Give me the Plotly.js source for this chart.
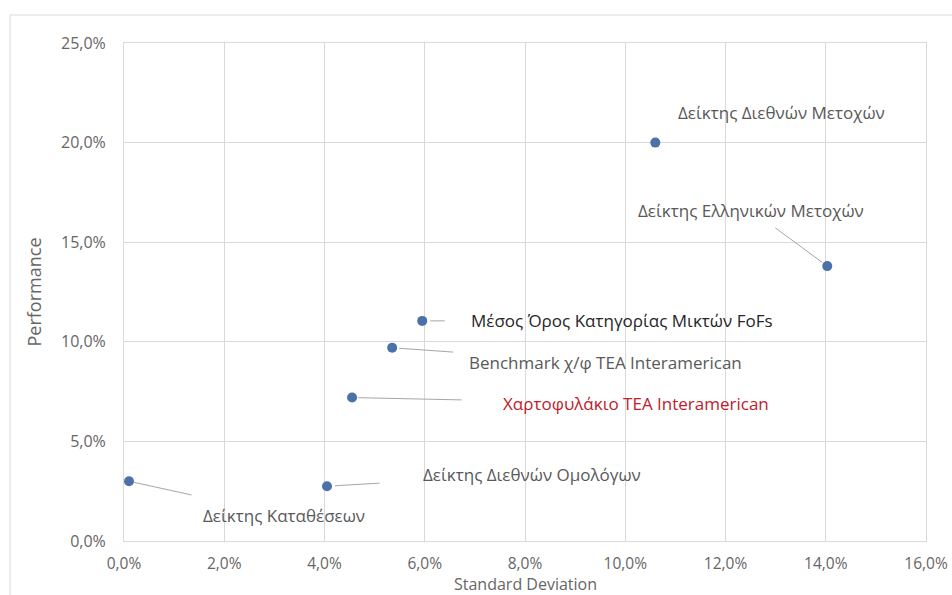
<!DOCTYPE html>
<html>
<head>
<meta charset="utf-8">
<script src="https://cdn.plot.ly/plotly-3.0.1.min.js"></script>
<style>
html,body{margin:0;padding:0;background:#fff;}
#chart{width:952px;height:595px;}
</style>
</head>
<body>
<div id="chart"></div>
<script>
// Data
const names = [
  "Δείκτης Καταθέσεων",
  "Δείκτης Διεθνών Ομολόγων",
  "Χαρτοφυλάκιο TEA Interamerican",
  "Benchmark χ/φ TEA Interamerican",
  "Μέσος Όρος Κατηγορίας Μικτών FoFs",
  "Δείκτης Διεθνών Μετοχών",
  "Δείκτης Ελληνικών Μετοχών"
];
const stdDev = [0.001, 0.0405, 0.0455, 0.0535, 0.0595, 0.106, 0.1403];
const perf   = [0.030, 0.0275, 0.072, 0.097, 0.1105, 0.200, 0.138];
const xTicks = [0, 0.02, 0.04, 0.06, 0.08, 0.10, 0.12, 0.14, 0.16];
const xTickText = ["0,0%","2,0%","4,0%","6,0%","8,0%","10,0%","12,0%","14,0%","16,0%"];
const yTicks = [0, 0.05, 0.10, 0.15, 0.20, 0.25];
const yTickText = ["0,0%","5,0%","10,0%","15,0%","20,0%","25,0%"];
const xTitle = "Standard Deviation";
const yTitle = "Performance";

// Label placement (styling only): pixel offsets from each point
const labelStyle = [
  {ax:155, ay:34,  arrow:true,  color:"#595959", so:5, sso:34},
  {ax:205, ay:-12, arrow:true,  color:"#595959", so:8, sso:42},
  {ax:284, ay:6,   arrow:true,  color:"#c0202a", so:6, sso:40},
  {ax:213, ay:15,  arrow:true,  color:"#595959", so:7, sso:14},
  {ax:200, ay:0,   arrow:true,  color:"#262626", so:8, sso:25},
  {ax:126, ay:-30, arrow:false, color:"#595959", so:0, sso:0},
  {ax:-76, ay:-56, arrow:true,  color:"#595959", so:6, sso:8}
];

const font = "Open Sans, Noto Sans, sans-serif";
const plotH = 595 - 43 - 54;

const annotations = names.map((n, i) => {
  const s = labelStyle[i];
  const a = {
    x: stdDev[i], y: perf[i], xref: "x", yref: "y",
    text: n,
    font: {family: font, size: 17, color: s.color},
  };
  if (s.arrow) {
    Object.assign(a, {showarrow: true, ax: s.ax, ay: s.ay, arrowhead: 0,
      arrowwidth: 1, arrowcolor: "#a6a6a6", standoff: s.so, startstandoff: s.sso});
  } else {
    Object.assign(a, {showarrow: false, xshift: s.ax, yshift: -s.ay});
  }
  return a;
});

// x-axis title placed as a paper annotation (close under the tick labels, like the reference)
annotations.push({
  xref: "paper", yref: "paper", x: 0.5, y: -43/plotH, yanchor: "middle",
  showarrow: false, text: xTitle,
  font: {family: font, size: 16, color: "#666666"}
});

const trace = {
  type: "scatter", mode: "markers",
  x: stdDev, y: perf, text: names,
  marker: {size: 10, color: "#4a72a8"},
  hoverinfo: "text+x+y"
};

const layout = {
  width: 952, height: 595,
  margin: {l: 124, r: 26, t: 43, b: 54},
  paper_bgcolor: "#ffffff", plot_bgcolor: "#ffffff",
  showlegend: false,
  font: {family: font, color: "#595959"},
  xaxis: {
    range: [0, 0.16], tickvals: xTicks, ticktext: xTickText,
    showgrid: true, gridcolor: "#d9d9d9", gridwidth: 1,
    zeroline: false, showline: true, mirror: true, linecolor: "#d9d9d9",
    ticks: "", ticklabelstandoff: 8, tickfont: {family: font, size: 15.5, color: "#666666"}
  },
  yaxis: {
    range: [0, 0.25], tickvals: yTicks, ticktext: yTickText,
    showgrid: true, gridcolor: "#d9d9d9", gridwidth: 1,
    zeroline: false, showline: true, mirror: true, linecolor: "#d9d9d9",
    ticks: "", ticklabelstandoff: 14, tickfont: {family: font, size: 16, color: "#666666"},
    title: {text: yTitle, font: {family: font, size: 18, color: "#666666"}, standoff: 14}
  },
  annotations: annotations,
  shapes: [{
    type: "rect", xref: "paper", yref: "paper",
    x0: -114/802, x1: 1 + 40/802, y0: -80/plotH, y1: 1 + 28/plotH,
    line: {color: "#d9d9d9", width: 1}, fillcolor: "rgba(0,0,0,0)", layer: "below"
  }]
};

Plotly.newPlot("chart", [trace], layout, {displayModeBar: false, staticPlot: true});
</script>
</body>
</html>
